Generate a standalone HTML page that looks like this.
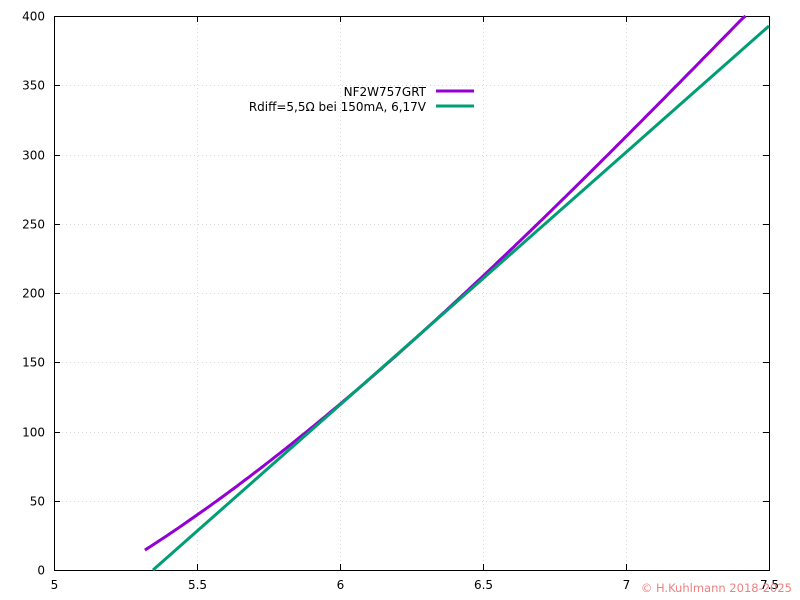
<!DOCTYPE html>
<html><head><meta charset="utf-8"><style>
body{margin:0;background:#fff}
svg{display:block;font-family:"DejaVu Sans",sans-serif;font-size:12px}
</style></head><body>
<svg id="s" width="800" height="600" xmlns="http://www.w3.org/2000/svg">
<rect width="800" height="600" fill="#fff"/>
<g id="grid" stroke="#d8d8d8" stroke-width="1" stroke-dasharray="1,3"></g>
<g id="ticks" stroke="#000" stroke-width="1"></g>
<g id="labels" fill="#000"></g>
<rect x="54.5" y="16.5" width="715" height="554" fill="none" stroke="#000" stroke-width="1"/>
<path id="purple" fill="none" stroke="#9400d3" stroke-width="3"/>
<line x1="153" y1="570" x2="769" y2="26" stroke="#009e73" stroke-width="3"/>
<text x="426" y="96" text-anchor="end">NF2W757GRT</text>
<line x1="436" y1="91" x2="474" y2="91" stroke="#9400d3" stroke-width="3"/>
<text x="426" y="111" text-anchor="end">Rdiff=5,5Ω bei 150mA, 6,17V</text>
<line x1="436" y1="106" x2="474" y2="106" stroke="#009e73" stroke-width="3"/>
<text x="792" y="592" text-anchor="end" fill="#f08080" style="font-size:11.5px">© H.Kuhlmann 2018-2025</text>
</svg>
<script>
var ns="http://www.w3.org/2000/svg";
function X(v){return 54+(v-5)*286}
function Y(i){return 570-i*554/400}
function el(p,t,a,txt){var e=document.createElementNS(ns,t);for(var k in a)e.setAttribute(k,a[k]);if(txt)e.textContent=txt;document.getElementById(p).appendChild(e)}
var xs=[5,5.5,6,6.5,7,7.5];
xs.forEach(function(v){var x=Math.round(X(v))+0.5;
 if(v>5&&v<7.5)el("grid","line",{x1:x,y1:16,x2:x,y2:570});
 el("ticks","line",{x1:x,y1:570,x2:x,y2:564});el("ticks","line",{x1:x,y1:16,x2:x,y2:22});
 el("labels","text",{x:x,y:589,"text-anchor":"middle"},String(v));});
for(var i=0;i<=400;i+=50){var y=Math.round(Y(i))+0.5;
 if(i>0&&i<400)el("grid","line",{x1:54,y1:y,x2:769,y2:y});
 el("ticks","line",{x1:54,y1:y,x2:60,y2:y});el("ticks","line",{x1:769,y1:y,x2:763,y2:y});
 el("labels","text",{x:45,y:y+4,"text-anchor":"end"},String(i));}
var d="";
for(var v=5.318;v<=7.42;v+=0.01){var t=v-6.17;var I=150+181.8*t+21.94*t*t-5.45*t*t*t;
 if(I>400){d+="L"+X(v).toFixed(1)+" 16";break;}
 d+=(d?"L":"M")+X(v).toFixed(1)+" "+Y(I).toFixed(1);}
document.getElementById("purple").setAttribute("d",d);
</script>
</body></html>
